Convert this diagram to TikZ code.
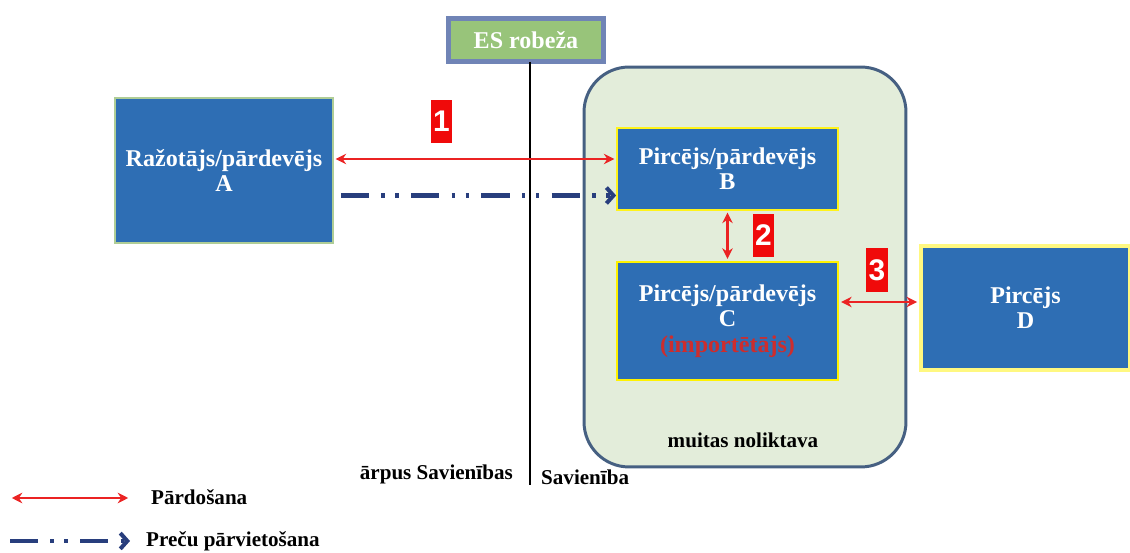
\documentclass[tikz,border=0pt]{standalone}
\usepackage{fontspec}
\setmainfont{Liberation Serif}
\newfontfamily\ciparufont{Liberation Sans}
\usetikzlibrary{arrows.meta}

\definecolor{kastezila}{RGB}{46,110,180}
\definecolor{robezzala}{RGB}{152,196,122}
\definecolor{noliktzala}{RGB}{227,237,218}
\definecolor{noliktmala}{RGB}{70,96,130}
\definecolor{bultsarkana}{RGB}{235,35,35}
\definecolor{cipsarkans}{RGB}{240,10,10}
\definecolor{importsarkans}{RGB}{205,45,45}
\definecolor{parvtumsa}{RGB}{40,62,125}

\begin{document}
\begin{tikzpicture}[x=0.02cm, y=-0.02cm, > = {Stealth[length=6pt,width=6pt]}, font=\bfseries\fontsize{12}{14}\selectfont]
                \tikzstyle{kaste}=[rectangle, fill=kastezila, text=white, align=center, inner sep=0pt, font=\bfseries\fontsize{13.7}{14.4}\selectfont]
                \tikzstyle{cipars}=[rectangle, fill=cipsarkans, text=white, inner sep=0pt, minimum width=0.43cm, minimum height=0.87cm, font=\ciparufont\bfseries\fontsize{17}{17}\selectfont]
                \tikzstyle{pardosana}=[<->, bultsarkana, line width=1.4pt, shorten > = 1pt, shorten < = 1pt]
                \tikzstyle{parvietosana}=[-{Straight Barb[length=4pt,width=9pt]}, parvtumsa, line width=2.3pt, dash pattern=on 16pt off 7pt on 2pt off 6pt on 2pt off 7pt]

                \useasboundingbox (0,0) rectangle (1130,553);

                    % Muitas noliktava
                    \node[rectangle, rounded corners=0.9cm, fill=noliktzala, draw=noliktmala, line width=1.7pt, minimum width=6.44cm, minimum height=8cm] (noliktava) at (745,267) {};
                    \node (noliktavaTeksts) at (743,440) {muitas noliktava};

                    % ES robeža
                    \node[rectangle, fill=robezzala, draw={rgb,255:red,112;green,132;blue,182}, line width=2.5pt, text=white, minimum width=3.1cm, minimum height=0.86cm, font=\bfseries\fontsize{13.7}{14.4}\selectfont] (es) at (526,40) {ES robeža};
                    \coordinate (robezaAugsa) at (530,62);
                    \coordinate (robezaApaksa) at (530,485);
                    \draw[line width=1.6pt] (robezaAugsa) -- (robezaApaksa);
                    \node[anchor=east] (arpus) at (519,474) {ārpus Savienības};
                    \node[anchor=west] (savieniba) at (535,477) {Savienība};

                    % Mezgli
                    \node[kaste, draw={rgb,255:red,175;green,205;blue,150}, line width=1pt, minimum width=4.36cm, minimum height=2.9cm] (A) at (224,170.5) {Ražotājs/pārdevējs\\A};
                    \node[kaste, draw=yellow!90!white, line width=1pt, minimum width=4.42cm, minimum height=1.64cm] (B) at (727.5,169) {Pircējs/pārdevējs\\B};
                    \node[kaste, draw=yellow, line width=1.6pt, minimum width=4.42cm, minimum height=2.36cm] (C) at (727.5,321) {Pircējs/pārdevējs\\C\\\textcolor{importsarkans}{(importētājs)}};
                    \node[kaste, draw=yellow!50!white, line width=2.5pt, minimum width=4.18cm, minimum height=2.48cm] (D) at (1025.5,308) {Pircējs\\D};

                    % Bultas
                    \draw[pardosana] ([yshift=0.23cm]A.east) -- ([yshift=0.23cm]A.east -| B.west);
                    \draw[parvietosana] ([xshift=0.14cm,yshift=-0.5cm]A.east) -- ([yshift=-0.5cm]A.east -| B.west);
                    \draw[pardosana] (B) -- (C);
                    \draw[pardosana] ([yshift=0.38cm]C.east) -- ([yshift=0.38cm]C.east -| D.west);

                    \node[cipars] (c1) at (441.5,121.5) {1};
                    \node[cipars] (c2) at (763.5,235.5) {2};
                    \node[cipars] (c3) at (877,270) {3};

                    % Apzīmējumi
                    \coordinate (pardSak) at (10,498);
                    \coordinate (pardBeig) at (130,498);
                    \draw[pardosana] (pardSak) -- (pardBeig);
                    \node[anchor=west] (pardTeksts) at (145,497) {Pārdošana};
                    \coordinate (parvSak) at (10,541);
                    \coordinate (parvBeig) at (130,541);
                    \draw[parvietosana] (parvSak) -- (parvBeig);
                    \node[anchor=west] (parvTeksts) at (140,541) {Preču pārvietošana};
            \end{tikzpicture}
\end{document}
